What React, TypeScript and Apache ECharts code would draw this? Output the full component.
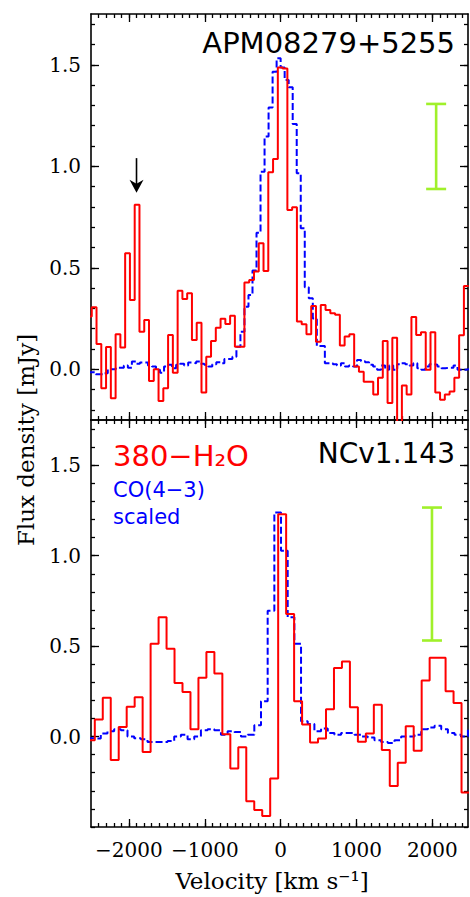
import React, { useEffect, useRef } from "react";
import * as echarts from "echarts";

// ---------- axes ----------
const X_MIN = -2500;
const X_MAX = 2470;
const X_MAJOR = [-2000, -1000, 0, 1000, 2000];
const TOP_Y_MIN = -0.25;
const TOP_Y_MAX = 1.75;
const BOT_Y_MIN = -0.5;
const BOT_Y_MAX = 1.75;
const Y_MAJOR = [0, 0.5, 1.0, 1.5];

// ---------- top panel: APM08279+5255 ----------
// red: 380-H2O spectrum, channel left edge start & channel width (km/s)
const topRedStart = -2553;
const topRedWidth = 62.9;
const topRedValues = [
  0.26, 0.305, 0.125, -0.094, 0.11, -0.143, 0.172, 0.107, 0.571, 0.341,
  0.81, 0.185, 0.242, -0.058, 0.0, -0.156, -0.094, 0.169, -0.017, 0.387,
  0.346, 0.374, 0.144, 0.229, -0.114, 0.062, 0.139, 0.205, 0.249, 0.223,
  0.263, 0.111, 0.111, 0.427, 0.44, 0.481, 0.621, 0.484, 0.97, 1.036,
  1.486, 1.481, 0.785, 0.798, 0.235, 0.222, 0.172, 0.312, 0.135, 0.317,
  0.292, 0.276, 0.268, 0.117, 0.161, 0.172, 0.013, -0.012, -0.062, -0.062,
  -0.124, -0.042, 0.139, -0.166, 0.155, -0.32, -0.08, -0.124, 0.257, 0.169,
  0.182, -0.003, 0.182, -0.114, -0.15, -0.124, -0.11, -0.042, 0.167, 0.41,
];
// blue: CO(4-3) scaled
const topBlueStart = -2544;
const topBlueWidth = 53;
const topBlueValues = [
  -0.015, -0.015, -0.025, -0.025, -0.02, 0.0, 0.0, 0.008, 0.008, 0.018,
  0.008, 0.038, 0.027, 0.033, 0.033, 0.018, 0.013, -0.003, -0.017, 0.013,
  0.022, 0.005, 0.022, 0.027, 0.018, 0.033, 0.03, 0.038, 0.027, 0.022,
  0.013, 0.025, 0.035, 0.03, 0.05,
  0.05, 0.062, 0.111, 0.185, 0.308, 0.366, 0.486, 0.672, 0.973, 1.146,
  1.29, 1.466, 1.532, 1.486, 1.425, 1.389, 1.208, 0.965, 0.695, 0.404,
  0.35, 0.25, 0.114, 0.114, 0.03,
  0.03, 0.025, 0.018, 0.03, 0.013, 0.018, 0.013, 0.046, 0.04, 0.035,
  0.022, 0.013, -0.003, 0.018, -0.003, 0.018, -0.003, 0.025, 0.03, 0.025,
  0.018, 0.03, 0.005, -0.003, 0.013, 0.025, 0.022, 0.013, 0.005, 0.008,
  0.008, 0.018, -0.003, -0.003, 0.0,
];

// ---------- bottom panel: NCv1.143 ----------
const botRedStart = -2555;
const botRedWidth = 105.1;
const botRedValues = [
  -0.02, 0.094, 0.215, -0.13, 0.053, 0.165, 0.217, -0.086, 0.513, 0.66,
  0.485, 0.296, 0.246, 0.04, 0.325, 0.467, 0.349, 0.013, -0.176, -0.059,
  -0.357, -0.406, -0.439, -0.232, 1.229, 0.678, 0.195, 0.066, -0.033, -0.011,
  0.151, 0.379, 0.415, 0.162, -0.029, 0.017, 0.176, -0.075, -0.274, -0.145,
  0.057, -0.079, 0.31, 0.436, 0.436, 0.25, 0.186, -0.309,
];
const botBlueStart = -2547;
const botBlueWidth = 88;
const botBlueValues = [
  -0.01, -0.011, 0.017, 0.03, 0.04, 0.035, 0.0, -0.01, -0.015, -0.03,
  -0.03, -0.03, -0.025, 0.0, 0.01, -0.015, 0.0, 0.035, 0.04, 0.035,
  0.01, 0.03, 0.025, 0.0, 0.01, 0.062, 0.195, 0.696, 1.239, 1.027,
  0.66, 0.513, 0.084, 0.07, 0.03, 0.045, 0.02, 0.01, 0.02, 0.02,
  0.01, 0.0, -0.005, -0.02, -0.03, -0.035, -0.02, 0.0, 0.0, 0.01,
  0.04, 0.05, 0.06, 0.04, 0.02, 0.01, 0.0, 0.04,
];

// error bars [velocity, low, high]
const topErrorBar = [2050, 0.888, 1.307];
const botErrorBar = [1995, 0.531, 1.266];
// arrow [velocity, from, to]
const topArrow = [-1900, 1.04, 0.87];

const RED = "#ff0000";
const BLUE = "#0000ff";
const GREEN = "#a0f02a";
const SERIF = "'DejaVu Serif', 'Liberation Serif', serif";
const SANS = "'DejaVu Sans', sans-serif";

function stepPoints(start: number, width: number, values: number[]) {
  const pts: number[][] = [];
  values.forEach((v, i) => {
    const a = +(start + i * width).toFixed(2);
    const b = +(start + (i + 1) * width).toFixed(2);
    pts.push([a, v], [b, v]);
  });
  return pts;
}

function seq(from: number, to: number, step: number) {
  const out: number[] = [];
  for (let i = 0; from + i * step <= to + 1e-9; i++) out.push(+(from + i * step).toFixed(4));
  return out;
}

const X_MINOR = seq(-2400, 2400, 100);

function fmtX(v: number) {
  return v < 0 ? "\u2212" + Math.abs(v) : String(v);
}

const FRAME = { show: true, onZero: false, lineStyle: { color: "#000", width: 1.6 } };

function xAxes(grid: number, labels: boolean) {
  const mk = (position: string, major: boolean) => ({
    type: "value",
    gridIndex: grid,
    min: X_MIN,
    max: X_MAX,
    position,
    splitLine: { show: false },
    axisLine: major ? FRAME : { show: false, onZero: false },
    axisTick: {
      show: true,
      inside: true,
      length: major ? 8 : 4,
      customValues: major ? X_MAJOR : X_MINOR,
      lineStyle: { color: "#000", width: 1.3 },
    },
    axisLabel:
      major && position === "bottom" && labels
        ? {
            show: true,
            customValues: X_MAJOR,
            formatter: fmtX,
            fontFamily: SERIF,
            fontSize: 20,
            color: "#000",
            margin: 13,
          }
        : { show: false },
  });
  return [mk("bottom", true), mk("bottom", false), mk("top", true), mk("top", false)];
}

function yAxes(grid: number, min: number, max: number) {
  const minor = seq(Math.ceil(min * 10) / 10, max, 0.1);
  const mk = (position: string, major: boolean) => ({
    type: "value",
    gridIndex: grid,
    min,
    max,
    position,
    splitLine: { show: false },
    axisLine: major ? FRAME : { show: false, onZero: false },
    axisTick: {
      show: true,
      inside: true,
      length: major ? 8 : 4,
      customValues: major ? Y_MAJOR : minor,
      lineStyle: { color: "#000", width: 1.3 },
    },
    axisLabel:
      major && position === "left"
        ? {
            show: true,
            customValues: Y_MAJOR,
            formatter: (v: number) => v.toFixed(1),
            fontFamily: SERIF,
            fontSize: 20,
            color: "#000",
            margin: 10,
          }
        : { show: false },
  });
  return [mk("left", true), mk("left", false), mk("right", true), mk("right", false)];
}

function errorBarSeries(xi: number, yi: number, d: number[]) {
  return {
    type: "custom",
    xAxisIndex: xi,
    yAxisIndex: yi,
    silent: true,
    data: [d],
    encode: { x: 0, y: [1, 2] },
    renderItem: (_p: any, api: any) => {
      const lo = api.coord([api.value(0), api.value(1)]);
      const hi = api.coord([api.value(0), api.value(2)]);
      const hw = 10;
      const style = { stroke: GREEN, lineWidth: 2.6 };
      return {
        type: "group",
        children: [
          { type: "line", shape: { x1: hi[0], y1: hi[1], x2: lo[0], y2: lo[1] }, style },
          { type: "line", shape: { x1: hi[0] - hw, y1: hi[1], x2: hi[0] + hw, y2: hi[1] }, style },
          { type: "line", shape: { x1: lo[0] - hw, y1: lo[1], x2: lo[0] + hw, y2: lo[1] }, style },
        ],
      };
    },
  };
}

function arrowSeries(xi: number, yi: number, d: number[]) {
  return {
    type: "custom",
    xAxisIndex: xi,
    yAxisIndex: yi,
    silent: true,
    data: [d],
    encode: { x: 0, y: [1, 2] },
    renderItem: (_p: any, api: any) => {
      const a = api.coord([api.value(0), api.value(1)]);
      const b = api.coord([api.value(0), api.value(2)]);
      return {
        type: "group",
        children: [
          {
            type: "line",
            shape: { x1: a[0], y1: a[1], x2: b[0], y2: b[1] - 8 },
            style: { stroke: "#000", lineWidth: 1.6 },
          },
          {
            type: "polygon",
            shape: {
              points: [
                [b[0] - 7, b[1] - 13],
                [b[0], b[1] - 9],
                [b[0] + 7, b[1] - 13],
                [b[0], b[1]],
              ],
            },
            style: { fill: "#000" },
          },
        ],
      };
    },
  };
}

function stepSeries(xi: number, yi: number, data: number[][], color: string, dashed: boolean) {
  return {
    type: "line",
    xAxisIndex: xi,
    yAxisIndex: yi,
    data,
    symbol: "none",
    silent: true,
    clip: true,
    lineStyle: { color, width: 2, type: dashed ? [7, 3] : "solid" },
  };
}

function txt(
  x: number,
  y: number,
  text: string,
  size: number,
  family: string,
  fill: string,
  align: string,
  rotation = 0
) {
  return {
    type: "text",
    x,
    y,
    rotation,
    silent: true,
    style: {
      text,
      fontSize: size,
      fontFamily: family,
      fill,
      align,
      textAlign: align,
      verticalAlign: "middle",
      textVerticalAlign: "middle",
    },
  };
}

export default function App() {
  const ref = useRef<HTMLDivElement>(null);
  useEffect(() => {
    if (!ref.current) return;
    const chart = echarts.init(ref.current, null, { renderer: "svg" });
    const option: any = {
      animation: false,
      backgroundColor: "#fff",
      grid: [
        { left: 91, top: 14, width: 377, height: 406 },
        { left: 91, top: 420, width: 377, height: 407 },
      ],
      xAxis: [...xAxes(0, false), ...xAxes(1, true)],
      yAxis: [...yAxes(0, TOP_Y_MIN, TOP_Y_MAX), ...yAxes(1, BOT_Y_MIN, BOT_Y_MAX)],
      series: [
        stepSeries(0, 0, stepPoints(topBlueStart, topBlueWidth, topBlueValues), BLUE, true),
        stepSeries(0, 0, stepPoints(topRedStart, topRedWidth, topRedValues), RED, false),
        errorBarSeries(0, 0, topErrorBar),
        arrowSeries(0, 0, topArrow),
        stepSeries(4, 4, stepPoints(botBlueStart, botBlueWidth, botBlueValues), BLUE, true),
        stepSeries(4, 4, stepPoints(botRedStart, botRedWidth, botRedValues), RED, false),
        errorBarSeries(4, 4, botErrorBar),
      ],
      graphic: [
        txt(455, 42.5, "APM08279+5255", 29, SANS, "#000", "right"),
        txt(455, 453, "NCv1.143", 28, SANS, "#000", "right"),
        txt(113, 456, "380\u2212H\u2082O", 29, SANS, RED, "left"),
        txt(113, 490, "CO(4\u22123)", 21, SANS, BLUE, "left"),
        txt(113, 517, "scaled", 21, SANS, BLUE, "left"),
        txt(26, 440, "Flux density [mJy]", 23, SERIF, "#000", "center", Math.PI / 2),
        txt(272, 881, "Velocity [km s\u207B\u00B9]", 23, SERIF, "#000", "center"),
      ],
    };
    chart.setOption(option);
    return () => chart.dispose();
  }, []);
  return (
    <div
      ref={ref}
      style={{ position: "absolute", left: 0, top: 0, width: 470, height: 897, background: "#fff" }}
    />
  );
}
